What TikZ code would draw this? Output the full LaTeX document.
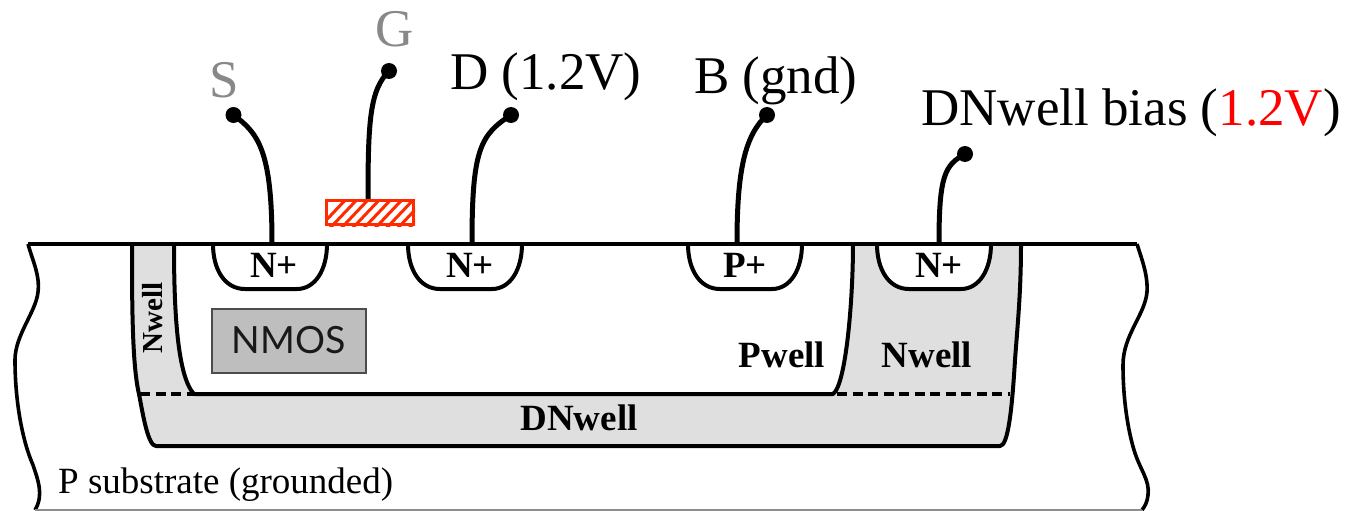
\documentclass[tikz,border=0pt]{standalone}
\usepackage{fontspec}
\setmainfont{Liberation Serif}
\newfontfamily\nmosfont{Lato}
\definecolor{wellgray}{HTML}{DFDFDF}
\definecolor{boxgray}{HTML}{BEBEBE}
\definecolor{termgray}{HTML}{888888}
\definecolor{gatered}{HTML}{FF2A00}
\tikzset{
  outline/.style={line width=4pt,black,line join=round},
  wire/.style={line width=5pt,black},
  term/.style={circle,fill=black,inner sep=0pt,minimum size=16pt},
  big/.style={font=\fontsize{53}{53}\selectfont,inner sep=0pt,anchor=base west},
  lab/.style={font=\fontsize{37}{37}\selectfont\bfseries,inner sep=0pt,anchor=base},
  dashline/.style={line width=3.4pt,dash pattern=on 10pt off 5.5pt},
}
\begin{document}
\begin{tikzpicture}[x=1pt,y=-1pt]
\useasboundingbox (0,0) rectangle (1353,511);
% substrate edges
\draw[line width=3.6pt] (28,244) .. controls (33,262) and (40,275) .. (38,292) .. controls (36,312) and (15,335) .. (15,360) .. controls (15,400) and (22,440) .. (33,465) .. controls (38,480) and (44,495) .. (35,510);
\draw[line width=3.6pt] (1137,244) .. controls (1142,260) and (1148,275) .. (1147,292) .. controls (1145,315) and (1123,335) .. (1123,365) .. controls (1123,400) and (1128,430) .. (1134,450) .. controls (1140,470) and (1150,480) .. (1148,495) .. controls (1147,503) and (1145,506) .. (1142,510);
\draw[line width=1.2pt,black!45] (35,510) -- (1142,510);
% DNwell
\path[fill=wellgray] (132,244) .. controls (132,300) and (132,365) .. (139,394) .. controls (143,415) and (148,446) .. (156,446) -- (1000,446) .. controls (1008,446) and (1012,410) .. (1015,360) .. controls (1018,320) and (1021,290) .. (1021,244) -- cycle;
\draw[outline] (132,244) .. controls (132,300) and (132,365) .. (139,394) .. controls (143,415) and (148,446) .. (156,446) -- (1000,446) .. controls (1008,446) and (1012,410) .. (1015,360) .. controls (1018,320) and (1021,290) .. (1021,244);
% Pwell
\path[fill=white] (174,244) .. controls (174,300) and (176,375) .. (194,394) -- (833,394) .. controls (846,385) and (853,300) .. (853,244) -- cycle;
\draw[outline] (174,244) .. controls (174,300) and (176,375) .. (194,394) -- (833,394) .. controls (846,385) and (853,300) .. (853,244);
% dashes
\coordinate (dl1) at (140,394); \coordinate (dl2) at (207,394);
\coordinate (dr1) at (837,394); \coordinate (dr2) at (1010,394);
\draw[dashline] (dl1) -- (dl2);
\draw[dashline] (dr1) -- (dr2);
% diffusion wells
\foreach \x in {213,408,688,877}{
  \draw[outline,fill=white] (\x,244) .. controls (\x,270) and (\x+12,289) .. (\x+32,289) -- (\x+84,289) .. controls (\x+102,289) and (\x+114,270) .. (\x+114,244);
}
% surface line
\coordinate (tl) at (28,244); \coordinate (tr) at (1137,244);
\draw[line width=4pt] (tl) -- (tr);
% gate
\begin{scope}
\clip (325,199) rectangle (415,226);
\foreach \i in {0,1,...,10}{
  \draw[gatered,line width=3pt] (315+\i*11.3,232) -- (315+\i*11.3+36,194);
}
\end{scope}
\node[draw=gatered,line width=3.4pt,minimum width=87pt,minimum height=24pt,inner sep=0pt] (gate) at (370,212.5) {};
% NMOS box
\node[draw=black!70,line width=2pt,fill=boxgray,minimum width=154pt,minimum height=64pt,inner sep=0pt,font=\fontsize{37.5}{37.5}\selectfont\nmosfont,text=black!90] (nmos) at (288.5,340.5) {NMOS};
% terminals
\node[term] (s) at (233.5,115) {};
\node[term] (g) at (389,71) {};
\node[term] (d) at (511,115) {};
\node[term] (b) at (767,115) {};
\node[term] (w) at (965,154) {};
\coordinate (sb) at (272,243);
\coordinate (db) at (472,243);
\coordinate (bb) at (737,243);
\coordinate (wb) at (939,243);
\draw[wire] (s.center) .. controls (258,133) and (272,150) .. (sb);
\draw[wire] (g.center) .. controls (370,90) and (368,120) .. ([xshift=-2pt]gate.north);
\draw[wire] (d.center) .. controls (480,135) and (472,150) .. (db);
\draw[wire] (b.center) .. controls (745,135) and (737,170) .. (bb);
\draw[wire] (w.center) .. controls (945,165) and (939,175) .. (wb);
% labels
\node[big,text=termgray] (ls) at (209,98) {S};
\node[big,text=termgray] (lg) at (375,47) {G};
\node[big] (ld) at (450,90) {D (1.2V)};
\node[big] (lb) at (694,93) {B (gnd)};
\node[big] (lw) at (921,125) {DNwell bias (\textcolor{red}{1.2V})};
\node[lab] (n1) at (274,277) {N+};
\node[lab] (n2) at (470,277) {N+};
\node[lab] (p1) at (745,277) {P+};
\node[lab] (n3) at (939,277) {N+};
\node[lab] (pw) at (782,367) {Pwell};
\node[lab] (nw) at (927,367) {Nwell};
\node[lab] (dn) at (579,430) {DNwell};
\node[lab,font=\fontsize{29}{29}\selectfont\bfseries,rotate=90,anchor=base] (nws) at (162,318) {Nwell};
\node[font=\fontsize{37}{37}\selectfont,inner sep=0pt,anchor=base west] (ps) at (58,493) {P substrate (grounded)};
\end{tikzpicture}
\end{document}
